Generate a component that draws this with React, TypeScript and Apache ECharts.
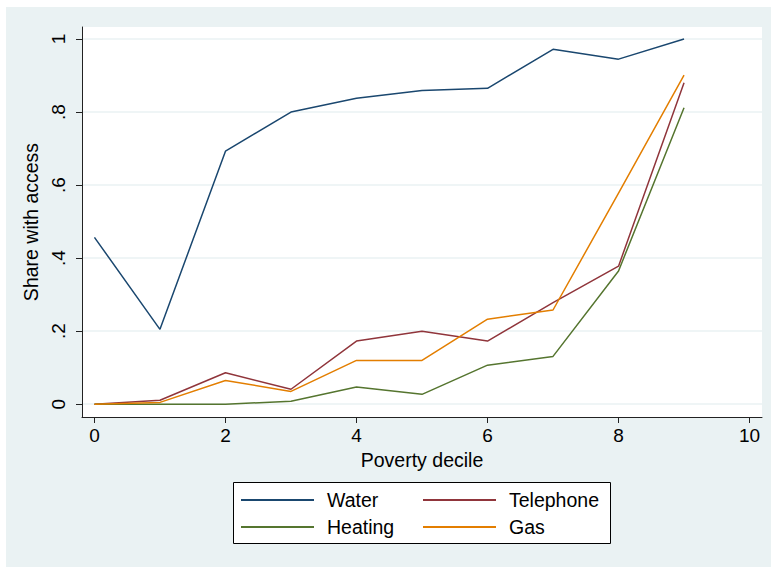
import React, { useEffect, useRef } from "react";
import * as echarts from "echarts";

const deciles = [0, 1, 2, 3, 4, 5, 6, 7, 8, 9];
const water = [0.457, 0.205, 0.693, 0.8, 0.838, 0.859, 0.865, 0.972, 0.945, 1.0];
const telephone = [0, 0.011, 0.086, 0.041, 0.173, 0.2, 0.173, 0.278, 0.378, 0.88];
const heating = [0, 0, 0, 0.008, 0.047, 0.027, 0.107, 0.131, 0.365, 0.812];
const gas = [0, 0.005, 0.065, 0.035, 0.12, 0.12, 0.233, 0.258, 0.578, 0.901];

const xTicks = [0, 2, 4, 6, 8, 10];
const yTicks = [0, 0.2, 0.4, 0.6, 0.8, 1];
const yTickLabels = ["0", ".2", ".4", ".6", ".8", "1"];

const seriesNames = ["Water", "Telephone", "Heating", "Gas"];
const seriesColors = ["#1a476f", "#90353b", "#55752f", "#e37e00"];
const seriesValues = [water, telephone, heating, gas];

const FONT = "'Liberation Sans', Arial, sans-serif";
const FS = 19.5;
const FS_TICK = 19;

export default function App() {
  const ref = useRef<HTMLDivElement>(null);
  useEffect(() => {
    if (!ref.current) return;
    const chart = echarts.init(ref.current, null, { renderer: "svg" });
    const legendText = {
      fontFamily: FONT,
      fontSize: FS,
      color: "#000",
      lineHeight: 20,
      padding: [0, 0, 0, 8],
    };
    chart.setOption({
      animation: false,
      backgroundColor: "#ffffff",
      textStyle: { fontFamily: FONT },
      graphic: [
        {
          type: "rect",
          z: -10,
          silent: true,
          shape: { x: 6, y: 7, width: 765, height: 560 },
          style: { fill: "#eaf2f3" },
        },
        {
          type: "rect",
          z: 5,
          silent: true,
          shape: { x: 233.5, y: 482.5, width: 377, height: 61 },
          style: { fill: "#ffffff", stroke: "#000", lineWidth: 1 },
        },
      ],
      grid: {
        left: 82,
        top: 27,
        right: 9,
        bottom: 150,
        show: true,
        backgroundColor: "#ffffff",
        borderWidth: 0,
        containLabel: false,
      },
      xAxis: {
        type: "value",
        min: -0.19,
        max: 10.19,
        name: "Poverty decile",
        nameLocation: "middle",
        nameGap: 29,
        nameTextStyle: { fontFamily: FONT, fontSize: FS, color: "#000" },
        axisLine: { show: true, onZero: false, lineStyle: { color: "#222", width: 1 } },
        axisTick: { show: true, length: 6, customValues: xTicks, lineStyle: { color: "#222", width: 1 } },
        axisLabel: {
          customValues: xTicks,
          margin: 9,
          fontFamily: FONT,
          fontSize: FS_TICK,
          color: "#000",
          formatter: (v: number) => String(v),
        },
        splitLine: { show: false },
      },
      yAxis: {
        type: "value",
        min: -0.035,
        max: 1.033,
        name: "Share with access",
        nameLocation: "middle",
        nameGap: 32,
        nameRotate: 90,
        nameTextStyle: { fontFamily: FONT, fontSize: FS, color: "#000" },
        axisLine: { show: true, onZero: false, lineStyle: { color: "#222", width: 1 } },
        axisTick: { show: true, length: 6, customValues: yTicks, lineStyle: { color: "#222", width: 1 } },
        axisLabel: {
          customValues: yTicks,
          rotate: 90,
          margin: 14,
          fontFamily: FONT,
          fontSize: FS_TICK,
          color: "#000",
          formatter: (v: number) => {
            const i = yTicks.findIndex((t) => Math.abs(t - v) < 1e-6);
            return i >= 0 ? yTickLabels[i] : "";
          },
        },
        splitLine: { show: true, lineStyle: { color: "#eaf2f3", width: 1.5 } },
      },
      legend: [
        {
          data: [seriesNames[0], seriesNames[2]],
          orient: "vertical",
          left: 241,
          top: 490,
          itemWidth: 73,
          itemHeight: 2,
          itemGap: 7,
          icon: "rect",
          padding: 0,
          z: 10,
          textStyle: legendText,
          selectedMode: false,
        },
        {
          data: [seriesNames[1], seriesNames[3]],
          orient: "vertical",
          left: 423,
          top: 490,
          itemWidth: 73,
          itemHeight: 2,
          itemGap: 7,
          icon: "rect",
          padding: 0,
          z: 10,
          textStyle: legendText,
          selectedMode: false,
        },
      ],
      series: seriesNames.map((name, k) => ({
        name,
        type: "line",
        data: deciles.map((d, i) => [d, seriesValues[k][i]]),
        showSymbol: false,
        symbol: "none",
        color: seriesColors[k],
        lineStyle: { color: seriesColors[k], width: 1.5 },
        itemStyle: { color: seriesColors[k] },
      })),
    });
    return () => chart.dispose();
  }, []);
  return (
    <div
      ref={ref}
      style={{ position: "absolute", left: 0, top: 0, width: 771, height: 567 }}
    />
  );
}
